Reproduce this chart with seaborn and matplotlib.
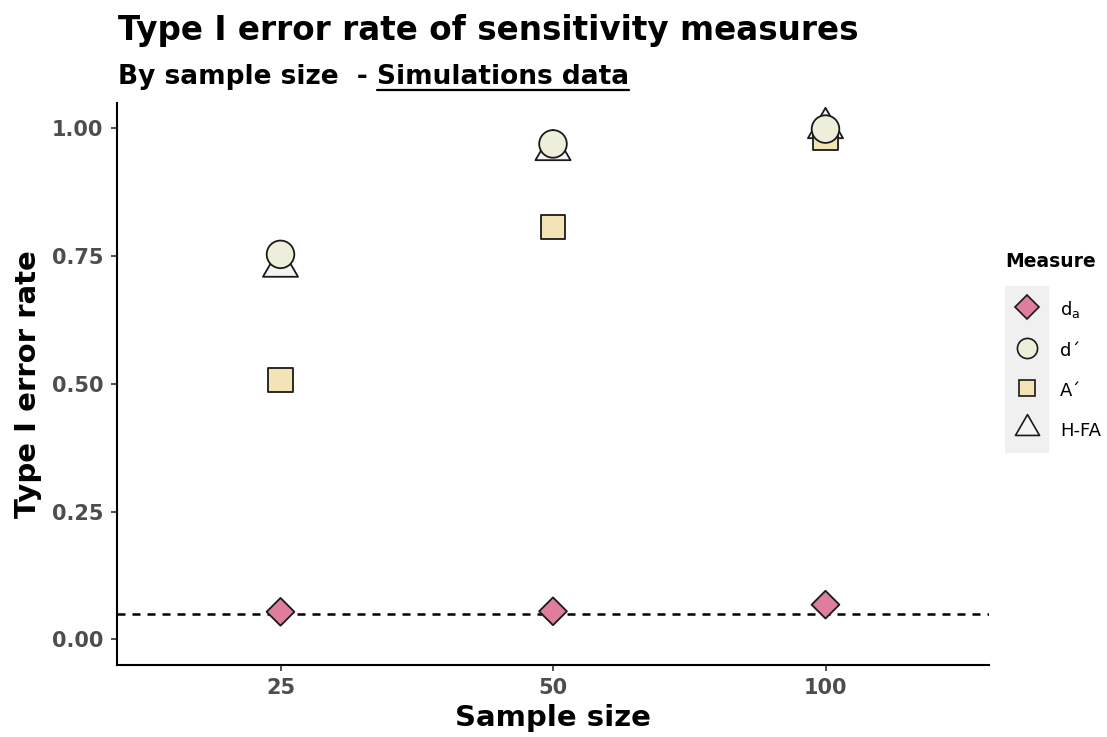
import numpy as np
import pandas as pd
import matplotlib
matplotlib.use("Agg")
import matplotlib.pyplot as plt
import seaborn as sns
from matplotlib.lines import Line2D
from matplotlib.path import Path
from matplotlib.patches import Rectangle

# ---------------- data ----------------
sample_sizes = ["25", "50", "100"]
measures = ["d_a", "d'", "A'", "H-FA"]
legend_labels = [r"d$_\mathregular{a}$", "d\u00b4", "A\u00b4", "H-FA"]
d_a = [0.054, 0.055, 0.068]
d_prime = [0.753, 0.969, 0.998]
A_prime = [0.508, 0.807, 0.980]
H_FA = [0.729, 0.957, 1.000]
alpha_level = 0.05
y_ticks = [0.00, 0.25, 0.50, 0.75, 1.00]

# ---------------- styles ----------------
colors = {"d_a": "#E07C9C", "d'": "#EDEFDA", "A'": "#F2E4B4", "H-FA": "#F4F4F4"}
tri = Path([(0, 1), (-0.866, -0.5), (0.866, -0.5), (0, 1)],
           [Path.MOVETO, Path.LINETO, Path.LINETO, Path.CLOSEPOLY])
markers = {"d_a": "D", "d'": "o", "A'": "s", "H-FA": tri}
sizes = {"d_a": 200, "d'": 395, "A'": 300, "H-FA": 850}

# draw order: triangle, square, circle, diamond
draw_order = ["H-FA", "A'", "d'", "d_a"]
values = {"d_a": d_a, "d'": d_prime, "A'": A_prime, "H-FA": H_FA}
rows = []
for m in draw_order:
    for n, v in zip(sample_sizes, values[m]):
        rows.append({"Sample size": n, "Measure": m, "rate": v})
df = pd.DataFrame(rows)

sns.set_theme(style="white")
plt.rcParams["font.family"] = ["DejaVu Sans"]

W, H = 1107, 737
fig = plt.figure(figsize=(W / 100, H / 100), dpi=100)
fig.patch.set_facecolor("white")
ax = fig.add_axes([117 / W, 1 - 665 / H, (989 - 117) / W, (665 - 102.5) / H])
ax.set_facecolor("white")

ax.axhline(alpha_level, color="black", lw=1.8, ls=(0, (3.2, 2.8)), zorder=1)

sns.scatterplot(data=df, x="Sample size", y="rate", hue="Measure", style="Measure",
                size="Measure", palette=colors, markers=markers, sizes=sizes,
                edgecolor="#1a1a1a", linewidth=1.3, legend=False, ax=ax, zorder=3)

ax.set_xlim(-0.6, 2.6)
ax.set_ylim(-0.05, 1.05)
ax.set_yticks(y_ticks)
ax.set_yticklabels([f"{t:.2f}" for t in y_ticks])
for s in ["top", "right"]:
    ax.spines[s].set_visible(False)
for s in ["left", "bottom"]:
    ax.spines[s].set_color("black")
    ax.spines[s].set_linewidth(1.5)
ax.tick_params(axis="both", which="both", length=4, width=1.2, color="#333333",
               labelsize=15, labelcolor="#4D4D4D", pad=6, left=True, bottom=True)
ax.tick_params(axis="x", pad=5)
for lab in ax.get_xticklabels() + ax.get_yticklabels():
    lab.set_fontweight("bold")
ax.grid(False)

ax.set_xlabel("Sample size", fontsize=21, fontweight="bold", color="black")
ax.set_ylabel("Type I error rate", fontsize=21, fontweight="bold", color="black", va="center")
ax.xaxis.set_label_coords(0.5, -0.069)
ax.yaxis.set_label_coords(-0.102, 0.5)

# titles
fig.text(118 / W, 1 - 40 / H, "Type I error rate of sensitivity measures",
         fontsize=23.5, fontweight="bold", color="black", va="baseline", ha="left")
sub1 = fig.text(118 / W, 1 - 84 / H, "By sample size  - ", fontsize=19,
                fontweight="bold", color="black", va="baseline", ha="left")
fig.canvas.draw()
r = fig.canvas.get_renderer()
bb1 = sub1.get_window_extent(r)
sub2 = fig.text(bb1.x1 / W, 1 - 84 / H, "Simulations data", fontsize=19,
                fontweight="bold", color="black", va="baseline", ha="left")

# legend
handles = []
leg_sizes = {"d_a": 12, "d'": 14.5, "A'": 12, "H-FA": 20}
for m in measures:
    handles.append(Line2D([], [], ls="none", marker=markers[m], markersize=leg_sizes[m],
                          markerfacecolor=colors[m], markeredgecolor="#1a1a1a",
                          markeredgewidth=1.2))
leg = fig.legend(handles, legend_labels, loc="upper left",
                 bbox_to_anchor=(1005 / W, 1 - 252 / H), frameon=False,
                 title="Measure", title_fontproperties={"weight": "bold", "size": 13.5},
                 fontsize=13, borderpad=0, handlelength=2.45, handleheight=1.3,
                 handletextpad=0.6, labelspacing=1.12, alignment="left",
                 borderaxespad=0)
leg.get_title().set_color("black")
for t in leg.get_texts():
    t.set_color("black")
leg._legend_box.sep = 20

fig.canvas.draw()
r = fig.canvas.get_renderer()
bb2 = sub2.get_window_extent(r)
yl = 1 - 90 / H
fig.add_artist(Line2D([bb2.x0 / W, bb2.x1 / W], [yl, yl], color="black", lw=1.6))

hb = [h.get_window_extent(r) for h in leg.legend_handles]
cx = (hb[0].x0 + hb[0].x1) / 2
ytop = (hb[0].y0 + hb[0].y1) / 2 + 21
ybot = (hb[-1].y0 + hb[-1].y1) / 2 - 25
rect = Rectangle(((cx - 22) / W, ybot / H), 44 / W, (ytop - ybot) / H,
                 transform=fig.transFigure, facecolor="#F0F0F0", edgecolor="none", zorder=2)
fig.add_artist(rect)
leg.set_zorder(5)

fig.savefig("out.png", dpi=100, facecolor="white")
